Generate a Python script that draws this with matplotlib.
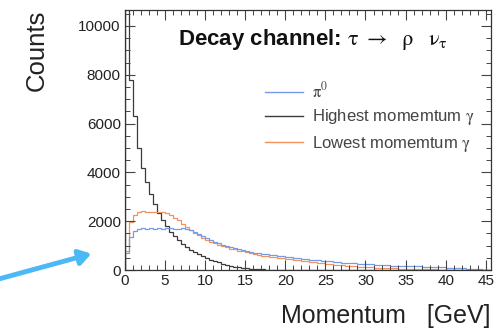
import numpy as np
import matplotlib
matplotlib.use('Agg')
import matplotlib.pyplot as plt
from matplotlib.lines import Line2D
from matplotlib.ticker import MultipleLocator

plt.rcParams['font.family'] = ['Liberation Sans', 'DejaVu Sans']
plt.rcParams['mathtext.fontset'] = 'stix'

# bin width 0.5 GeV, 91 bins from 0 to 45.5 GeV
bin_width = 0.5
n_bins = 91

# pi0 momentum
pi0_counts = [
    700, 1350, 1620, 1700, 1725, 1700, 1735, 1680, 1720, 1695,
    1735, 1705, 1700, 1685, 1725, 1700, 1650, 1565, 1460, 1395,
    1300, 1225, 1150, 1095, 1035, 995, 940, 905, 855, 825,
    785, 755, 715, 700, 665, 650, 620, 610, 585, 575,
    545, 535, 505, 495, 465, 455, 425, 420, 395, 390,
    365, 360, 335, 330, 305, 300, 280, 280, 260, 258,
    240, 238, 220, 218, 200, 200, 185, 186, 172, 172,
    160, 163, 150, 154, 140, 145, 130, 132, 118, 120,
    105, 104, 88, 84, 68, 64, 50, 43, 32, 22,
    12,
]

# highest momentum photon
high_counts = [
    10800, 7800, 6300, 5000, 4200, 3600, 3100, 2700, 2350, 2050,
    1800, 1580, 1380, 1220, 1080, 950, 830, 730, 640, 560,
    490, 430, 370, 320, 265, 215, 175, 145, 115, 92,
    72, 56, 43, 33, 25, 18, 13, 9, 6, 4,
    3, 2, 1, 1, 0, 0, 0, 0, 0, 0,
    0, 0, 0, 0, 0, 0, 0, 0, 0, 0,
    0, 0, 0, 0, 0, 0, 0, 0, 0, 0,
    0, 0, 0, 0, 0, 0, 0, 0, 0, 0,
    0, 0, 0, 0, 0, 0, 0, 0, 0, 0,
    0,
]

# lowest momentum photon
low_counts = [
    800, 1950, 2250, 2385, 2420, 2395, 2370, 2395, 2360, 2385,
    2320, 2245, 2150, 2045, 1900, 1765, 1640, 1535, 1420, 1335,
    1230, 1155, 1090, 1035, 980, 935, 880, 845, 800, 765,
    725, 690, 655, 628, 595, 572, 545, 522, 500, 482,
    455, 437, 415, 397, 375, 357, 335, 318, 295, 278,
    258, 242, 222, 207, 190, 177, 162, 151, 140, 131,
    120, 111, 101, 94, 86, 80, 72, 67, 60, 56,
    50, 47, 42, 39, 35, 32, 29, 27, 23, 21,
    19, 17, 15, 13, 11, 10, 8, 7, 6, 4,
    3,
]

labels = [r'$\mathrm{\pi}^{0}$', r'Highest momemtum $\mathrm{\gamma}$',
          r'Lowest momemtum $\mathrm{\gamma}$']
colors = ['#739be6', '#3a3a3a', '#f4915c']

edges = np.arange(n_bins + 1) * bin_width

fig = plt.figure(figsize=(4.95, 3.29), dpi=100)
ax = fig.add_axes([0.2525, 0.179, 0.7385, 0.7906])

ax.stairs(high_counts, edges, color=colors[1], lw=0.9)
ax.stairs(low_counts, edges, color=colors[2], lw=0.9)
ax.stairs(pi0_counts, edges, color=colors[0], lw=0.9)

ax.set_xlim(0, 45.6)
ax.set_ylim(0, 10650)

ax.xaxis.set_major_locator(MultipleLocator(5))
ax.xaxis.set_minor_locator(MultipleLocator(1))
ax.yaxis.set_major_locator(MultipleLocator(2000))
ax.yaxis.set_minor_locator(MultipleLocator(500))
ax.tick_params(which='both', direction='in', top=True, right=True,
               labelsize=11, labelcolor='#222222', color='#444444')
ax.tick_params(which='major', length=7, width=0.8, pad=3)
ax.tick_params(which='minor', length=3.5, width=0.7)
for s in ax.spines.values():
    s.set_linewidth(0.9)
    s.set_color('#333333')

# ROOT-style axis titles
fig.text(0.075, 0.97, 'Counts', rotation=90, ha='center', va='top',
         fontsize=18.5, color='#222222')
fig.text(0.99, 0.018, 'Momentum   [GeV]', ha='right', va='baseline',
         fontsize=18, color='#222222')

fig.text(0.36, 0.863,
         r'Decay channel: $\mathrm{\tau}\ \rightarrow\ \ \mathrm{\rho}\ \ \ \mathrm{\nu}_{\mathrm{\tau}}$',
         fontsize=16, fontweight='bold', color='#111111', va='baseline')

handles = [Line2D([], [], color=c, lw=1.0) for c in colors]
leg = ax.legend(handles, labels, loc='upper left', bbox_to_anchor=(0.3825, 0.728),
                frameon=False, fontsize=12, handlelength=2.3, handletextpad=0.55,
                labelspacing=0.4, borderaxespad=0, borderpad=0)
for t in leg.get_texts():
    t.set_color('#444444')

# blue pointer arrow in the left margin
fig.patches.append(matplotlib.patches.FancyArrowPatch(
    (-0.01, 1 - 280 / 329), (0.19, 1 - 253 / 329), transform=fig.transFigure,
    arrowstyle='-|>,head_length=7,head_width=4.5', color='#4cb8f5', lw=3.5))

fig.savefig('out.png', dpi=100)
